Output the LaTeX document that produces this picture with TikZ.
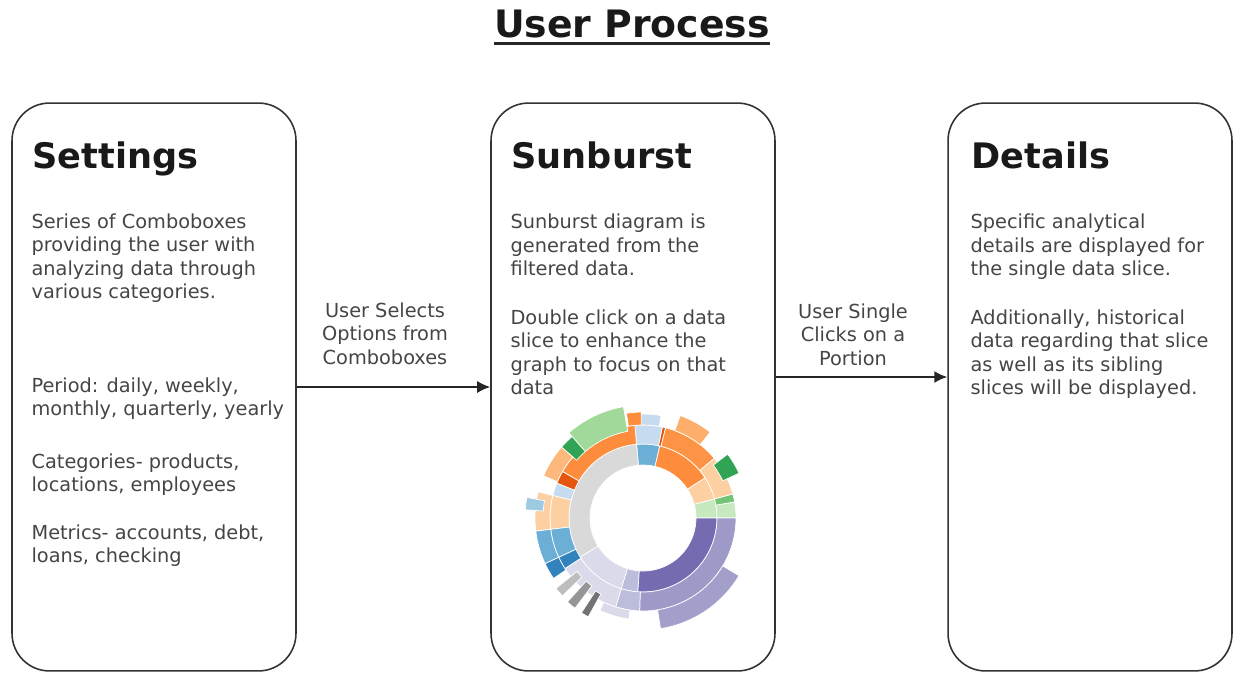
\documentclass[tikz,border=0pt]{standalone}
\usepackage{fontspec}
\setmainfont{DejaVu Sans}
\usetikzlibrary{arrows.meta,positioning}

\definecolor{txtgray}{HTML}{454545}
\definecolor{linegray}{HTML}{333333}
% sunburst palette
\definecolor{sbB1}{HTML}{3182BD}\definecolor{sbB2}{HTML}{6BAED6}
\definecolor{sbB3}{HTML}{9ECAE1}\definecolor{sbB4}{HTML}{C6DBEF}
\definecolor{sbO1}{HTML}{E6550D}\definecolor{sbO2}{HTML}{FD8D3C}
\definecolor{sbO3}{HTML}{FDAE6B}\definecolor{sbO4}{HTML}{FDD0A2}
\definecolor{sbG1}{HTML}{31A354}\definecolor{sbG2}{HTML}{74C476}
\definecolor{sbG3}{HTML}{A1D99B}\definecolor{sbG4}{HTML}{C7E9C0}
\definecolor{sbP1}{HTML}{756BB1}\definecolor{sbP2}{HTML}{9E9AC8}
\definecolor{sbP3}{HTML}{BCBDDC}\definecolor{sbP4}{HTML}{DADAEB}
\definecolor{sbGy1}{HTML}{737373}\definecolor{sbGy2}{HTML}{969696}
\definecolor{sbGy3}{HTML}{BDBDBD}\definecolor{sbGy4}{HTML}{D9D9D9}

% start angle, end angle, inner radius, outer radius, colour
\newcommand{\sbslice}[5]{%
  \filldraw[fill=#5,draw=white,line width=0.4pt] (#1:#3)
    arc[start angle=#1,end angle=#2,radius=#3] -- (#2:#4)
    arc[start angle=#2,end angle=#1,radius=#4] -- cycle;}

\begin{document}
\begin{tikzpicture}[
  x=0.02cm,y=-0.02cm,
  >={Latex[length=2.6mm,width=2.4mm]},
  panel/.style={draw=linegray,line width=0.9pt,rounded corners=0.75cm,
    minimum width=5.68cm,minimum height=11.36cm,inner sep=0},
  title/.style={font=\fontsize{21.5}{26}\selectfont\bfseries,text=black!90,inner sep=0,anchor=base},
  heading/.style={font=\fontsize{20}{24}\selectfont\bfseries,text=black!90,inner sep=0,anchor=base west},
  % multi-line texts: base anchor sits on the last line
  body/.style={font=\fontsize{11}{13.2}\selectfont,text=txtgray,align=left,inner sep=0,anchor=base west},
  lbl/.style={font=\fontsize{11}{13.2}\selectfont,text=txtgray,align=center,inner sep=0,anchor=base},
  flow/.style={->,line width=0.9pt,draw=black!85}
]
  \useasboundingbox (0,0) rectangle (1233,673);

  \node[title] (title) at (632,37) {User Process};
  \draw[line width=2.2pt,black!85] ([yshift=-0.13cm]title.base west) -- ([yshift=-0.13cm]title.base east);

  \node[panel] (settings) at (154,387) {};
  \node[panel] (sunburst) at (633,387) {};
  \node[panel] (details) at (1090,387) {};

  % settings panel
  \node[heading] (sethead) at ([shift={(21,66)}]settings.north west) {Settings};
  \node[body] (setintro) at ([shift={(20,196)}]settings.north west)
    {Series of Comboboxes\\providing the user with\\analyzing data through\\various categories.};
  \node[body] (setperiod) at ([shift={(20,313)}]settings.north west)
    {Period: daily, weekly,\\monthly, quarterly, yearly};
  \node[body] (setcat) at ([shift={(20,389)}]settings.north west)
    {Categories- products,\\locations, employees};
  \node[body] (setmetric) at ([shift={(20,460)}]settings.north west)
    {Metrics- accounts, debt,\\loans, checking};

  % sunburst panel
  \node[heading] (sbhead) at ([shift={(21,66)}]sunburst.north west) {Sunburst};
  \node[body] (sbintro) at ([shift={(20,173)}]sunburst.north west)
    {Sunburst diagram is\\generated from the\\filtered data.};
  \node[body] (sbclick) at ([shift={(20,292)}]sunburst.north west)
    {Double click on a data\\slice to enhance the\\graph to focus on that\\data};

  % details panel
  \node[heading] (dethead) at ([shift={(24,66)}]details.north west) {Details};
  \node[body] (detintro) at ([shift={(23,173)}]details.north west)
    {Specific analytical\\details are displayed for\\the single data slice.};
  \node[body] (dethist) at ([shift={(23,292)}]details.north west)
    {Additionally, historical\\data regarding that slice\\as well as its sibling\\slices will be displayed.};

  % connectors
  \draw[flow] (settings.east) -- (sunburst.west);
  \draw[flow] ([yshift=0.2cm]sunburst.east) -- ([yshift=0.2cm]details.west);
  \node[lbl] (sellbl) at (385,364) {User Selects\\Options from\\Comboboxes};
  \node[lbl] (clicklbl) at (853,365) {User Single\\Clicks on a\\Portion};

  % sunburst chart
  \begin{scope}[shift={(643,518)},yscale=-1]
    % inner ring
    \sbslice{0}{15}{53}{74}{sbG4}
    \sbslice{15}{33}{53}{74}{sbO4}
    \sbslice{33}{77}{53}{74}{sbO2}
    \sbslice{77}{95}{53}{74}{sbB2}
    \sbslice{95}{212}{53}{74}{sbGy4}
    \sbslice{212}{253}{53}{74}{sbP4}
    \sbslice{253}{266}{53}{74}{sbP3}
    \sbslice{266}{360}{53}{74}{sbP1}
    % middle ring
    \sbslice{0}{10}{74}{93}{sbG4}
    \sbslice{10}{15}{74}{93}{sbG2}
    \sbslice{15}{40}{74}{93}{sbO4}
    \sbslice{40}{76}{74}{93}{sbO2!80!sbO3}
    \sbslice{76}{78}{74}{93}{sbO1}
    \sbslice{78}{95}{74}{93}{sbB4}
    \sbslice{95}{150}{74}{93}{sbO2}
    \sbslice{150}{158}{74}{93}{sbO1}
    \sbslice{158}{166}{74}{93}{sbB4}
    \sbslice{166}{187}{74}{93}{sbO4}
    \sbslice{187}{205}{74}{93}{sbB2}
    \sbslice{205}{213}{74}{93}{sbB1}
    \sbslice{213}{253}{74}{93}{sbP4}
    \sbslice{253}{268}{74}{93}{sbP3}
    \sbslice{268}{360}{74}{93}{sbP2}
    % outer ring
    \sbslice{25}{37}{88}{106}{sbG1}
    \sbslice{52}{70}{93}{109}{sbO3}
    \sbslice{80}{93}{93}{104}{sbB4}
    \sbslice{91}{99}{93}{106}{sbO2}
    \sbslice{100}{131}{88}{113}{sbG3}
    \sbslice{131}{139}{88}{108}{sbG1}
    \sbslice{139}{157}{93}{108}{sbO3!70!sbO4}
    \sbslice{166}{187}{93}{108}{sbO4}
    \sbslice{170}{176}{100}{118}{sbB3}
    \sbslice{187}{205}{93}{108}{sbB2}
    \sbslice{205}{214}{93}{108}{sbB1}
    \sbslice{245}{262}{93}{102}{sbP4}
    \sbslice{219}{224}{85}{112}{sbGy3}
    \sbslice{228}{233}{85}{113}{sbGy2}
    \sbslice{237}{241}{87}{113}{sbGy1}
    \sbslice{279}{329}{93}{112}{sbP2!85!sbP3}
  \end{scope}
\end{tikzpicture}
\end{document}
